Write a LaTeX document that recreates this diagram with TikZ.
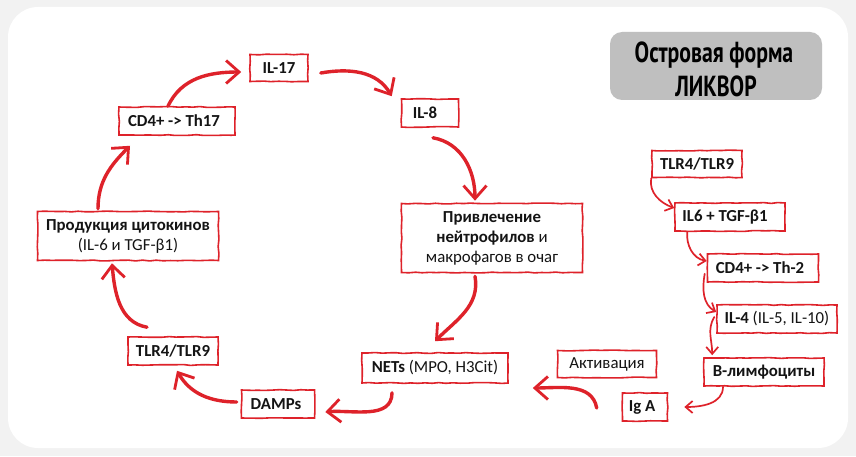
\documentclass[tikz,border=0pt]{standalone}
\usepackage{fontspec}
\usepackage{graphicx}
\setmainfont{Carlito}
\newfontfamily\titlefont{PT Sans}
\usetikzlibrary{arrows.meta,decorations.pathmorphing,calc}
\definecolor{sred}{RGB}{222,34,42}
\definecolor{bggray}{RGB}{242,242,242}
\definecolor{titlegray}{RGB}{191,191,191}
\definecolor{txt}{RGB}{20,20,20}
\begin{document}
\begin{tikzpicture}[x=1pt,y=1pt,
  box/.style={draw=sred, line width=1.6pt, fill=white, inner sep=0pt, text=txt,
    font=\fontsize{16.8}{20}\selectfont, align=center,
    decorate, decoration={random steps, segment length=7pt, amplitude=0.45pt}},
  bigarrow/.style={draw=sred, line width=3.4pt, line cap=round,
    -{Straight Barb[length=13pt,width=23pt,line width=2.8pt]}},
  smallarrow/.style={draw=sred, line width=1.7pt, line cap=round,
    -{Straight Barb[length=7pt,width=12pt,line width=1.7pt]}},
  titletext/.style={anchor=base, inner sep=0pt, text=black, font=\fontsize{29}{30}\titlefont\bfseries}
]
\useasboundingbox (0,0) rectangle (856,456);
\fill[bggray] (0,0) rectangle (856,456);
\fill[white, rounded corners=30pt] (8,8) rectangle (848,449);

% title
\node[fill=titlegray, rounded corners=12pt, minimum width=212pt, minimum height=68pt, inner sep=0pt] (title) at (716,390) {};
\node[titletext] (t1) at (714,393) {\scalebox{0.75}[1]{Островая форма}};
\node[titletext] (t2) at (716,359) {\scalebox{0.75}[1]{ЛИКВОР}};

% cycle nodes
\node[box, minimum width=58pt, minimum height=27pt] (il17) at (279,388) {\textbf{IL-17}};
\node[box, minimum width=116pt, minimum height=28pt] (cd4a) at (177,335) {\textbf{CD4+ -> Th17}\hspace{6pt}};
\node[box, minimum width=181pt, minimum height=49pt] (prod) at (128,220) {\textbf{Продукция цитокинов}\\(IL-6 и TGF-β1)};
\node[box, minimum width=90pt, minimum height=28pt] (tlrl) at (173,105) {\textbf{TLR4/TLR9}};
\node[box, minimum width=73pt, minimum height=28pt] (damps) at (278,52) {\textbf{DAMPs}\hspace{4pt}};
\node[box, minimum width=146pt, minimum height=30pt] (nets) at (435,88) {\textbf{NETs} (MPO, H3Cit)};
\node[box, minimum width=181pt, minimum height=69pt] (priv) at (492,218) {\textbf{Привлечение}\\\textbf{нейтрофилов} и\\макрофагов в очаг};
\node[box, minimum width=57pt, minimum height=28pt] (il8) at (430,343) {\textbf{IL-8}\hspace{10pt}};

% right column
\node[box, minimum width=90pt, minimum height=27pt] (tlrr) at (697,292) {\textbf{TLR4/TLR9}};
\node[box, minimum width=110pt, minimum height=28pt] (il6) at (730,239) {\textbf{IL6 + TGF-β1}\hspace{10pt}};
\node[box, minimum width=111pt, minimum height=28pt] (cd4b) at (763,188) {\textbf{CD4+ -> Th-2}\hspace{6pt}};
\node[box, minimum width=120pt, minimum height=28pt] (il4) at (777,137) {\textbf{IL-4} (IL-5, IL-10)};
\node[box, minimum width=120pt, minimum height=28pt] (blym) at (764,84) {\textbf{В-лимфоциты}};
\node[box, minimum width=45pt, minimum height=28pt] (iga) at (645,49) {\textbf{Ig A}\hspace{6pt}};
\node[box, minimum width=99pt, minimum height=27pt] (act) at (607,92) {Активация};

% cycle arrows
\draw[bigarrow] ([xshift=-9pt]cd4a.north) to[out=65,in=180] ([xshift=-8pt,yshift=-4pt]il17.west);
\draw[bigarrow] ([xshift=12pt,yshift=-5pt]il17.east) to[out=10,in=120] ([xshift=-9pt,yshift=2pt]il8.north west);
\draw[bigarrow] ([xshift=3pt,yshift=-10pt]il8.south) to[out=-10,in=90] ([xshift=-17pt,yshift=2pt]priv.north);
\draw[bigarrow] ([xshift=-17pt,yshift=-3pt]priv.south) to[out=-80,in=45] ([yshift=11pt]nets.north);
\draw[bigarrow] ([xshift=-43pt,yshift=-9pt]nets.south) to[out=-90,in=5] ([xshift=10pt,yshift=-8pt]damps.east);
\draw[bigarrow] ([xshift=-4pt,yshift=2pt]damps.west) to[out=180,in=-60] ([xshift=4pt,yshift=-5pt]tlrl.south);
\draw[bigarrow] ([xshift=-26pt,yshift=9pt]tlrl.north) to[out=170,in=-85] ([xshift=-16pt,yshift=-2pt]prod.south);
\draw[bigarrow] ([xshift=-30pt,yshift=2pt]prod.north) to[out=90,in=225] ([xshift=-47pt,yshift=-10pt]cd4a.south);

% right column arrows
\draw[smallarrow] (tlrr.south west) to[out=-100,in=160] ([yshift=9pt]il6.west);
\draw[smallarrow] ([xshift=13pt]il6.south west) to[out=-95,in=170] ([yshift=7pt]cd4b.west);
\draw[smallarrow] ([xshift=-2pt,yshift=9pt]cd4b.south west) to[out=-100,in=150] ([yshift=7pt]il4.west);
\draw[smallarrow] ([xshift=-2pt,yshift=2pt]il4.west) to[out=-120,in=90] ([xshift=9pt,yshift=2pt]blym.north west);
\draw[smallarrow] ([xshift=-41pt]blym.south) to[out=-90,in=0] ([xshift=16pt]iga.east);

% activation arrow
\draw[bigarrow] ([xshift=-25pt,yshift=-1pt]iga.west) to[out=100,in=0] ([xshift=24pt,yshift=-20pt]nets.east);
\end{tikzpicture}
\end{document}
